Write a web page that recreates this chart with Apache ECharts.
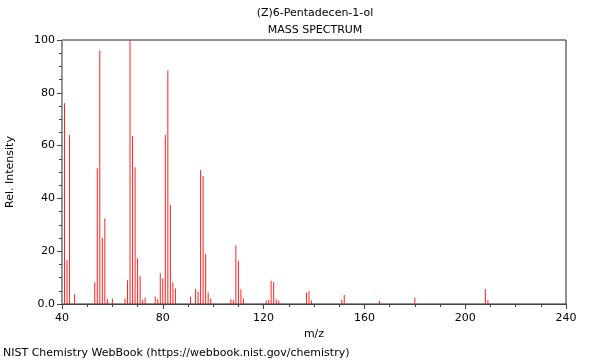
<!DOCTYPE html>
<html>
<head>
<meta charset="utf-8">
<script src="https://cdn.jsdelivr.net/npm/echarts@6/dist/echarts.min.js"></script>
<style>html,body{margin:0;padding:0;background:#fff}#c{width:600px;height:360px}</style>
</head>
<body>
<div id="c"></div>
<script>
var mz = [41,42,43,45,53,54,55,56,57,58,60,65,66,67,68,69,70,71,72,73,77,78,79,80,81,82,83,84,85,91,93,94,95,96,97,98,99,107,108,109,110,111,112,121,122,123,124,125,126,137,138,139,151,152,166,180,208,209];
var intensity = [76,16.7,64,3.7,8.2,51.4,96,25.1,32.4,1.9,2.1,2.1,9,100,63.6,51.8,17.3,10.6,1.5,2.4,2.8,1.8,11.6,9.7,64,88.4,37.5,8.2,5.9,2.8,5.7,4.7,50.8,48.5,18.9,4.4,2.1,1.8,1.5,22.3,16.4,5.6,2.1,1.3,1.5,8.8,8.3,1.8,1.3,4.3,4.8,1.3,1.6,3.4,1.1,2.4,5.7,1.5];
var xTicks = [40,80,120,160,200,240];
var yTicks = [0,20,40,60,80,100];

var FONT = 'DejaVu Sans';
var chart = echarts.init(document.getElementById('c'), null, {renderer:'canvas'});
var data = mz.map(function(m,i){return [m,intensity[i]];});
chart.setOption({
  animation:false,
  backgroundColor:'#fff',
  textStyle:{fontFamily:FONT},
  grid:{left:62,right:34,top:40,bottom:56,show:true,borderColor:'#222',borderWidth:1,
        containLabel:false,outerBoundsMode:'none'},
  xAxis:{
    type:'value', min:xTicks[0], max:xTicks[xTicks.length-1], interval:40,
    name:'m/z', nameLocation:'middle', nameGap:23,
    nameTextStyle:{fontFamily:FONT,fontSize:11,color:'#000'},
    axisLine:{show:true,lineStyle:{color:'#444',width:1}},
    axisTick:{show:true,length:5,lineStyle:{color:'#444'}},
    minorTick:{show:true,splitNumber:4,length:3,lineStyle:{color:'#444'}},
    splitLine:{show:false},
    axisLabel:{fontFamily:FONT,fontSize:11,color:'#000',margin:9}
  },
  yAxis:{
    type:'value', min:yTicks[0], max:yTicks[yTicks.length-1], interval:20,
    name:'Rel. Intensity', nameLocation:'middle', nameGap:46,
    nameTextStyle:{fontFamily:FONT,fontSize:11,color:'#000'},
    axisLine:{show:true,lineStyle:{color:'#999',width:1}},
    axisTick:{show:true,length:5,lineStyle:{color:'#444'}},
    minorTick:{show:true,splitNumber:4,length:3,lineStyle:{color:'#444'}},
    splitLine:{show:false},
    axisLabel:{fontFamily:FONT,fontSize:11,color:'#000',margin:7,
      formatter:function(v){return v===0?'0.0':String(v);}}
  },
  series:[{
    type:'bar', data:data, barWidth:1,
    itemStyle:{color:'#ff2020'}, silent:true
  }],
  graphic:[
    {type:'text',x:315,y:13,style:{text:'(Z)6-Pentadecen-1-ol',font:'11px "DejaVu Sans"',fill:'#000',align:'center',verticalAlign:'middle'}},
    {type:'text',x:315,y:30,style:{text:'MASS SPECTRUM',font:'11px "DejaVu Sans"',fill:'#000',align:'center',verticalAlign:'middle'}},
    {type:'text',x:3,y:353,style:{text:'NIST Chemistry WebBook (https://webbook.nist.gov/chemistry)',font:'11px "DejaVu Sans"',fill:'#000',align:'left',verticalAlign:'middle'}}
  ]
});
</script>
</body>
</html>
